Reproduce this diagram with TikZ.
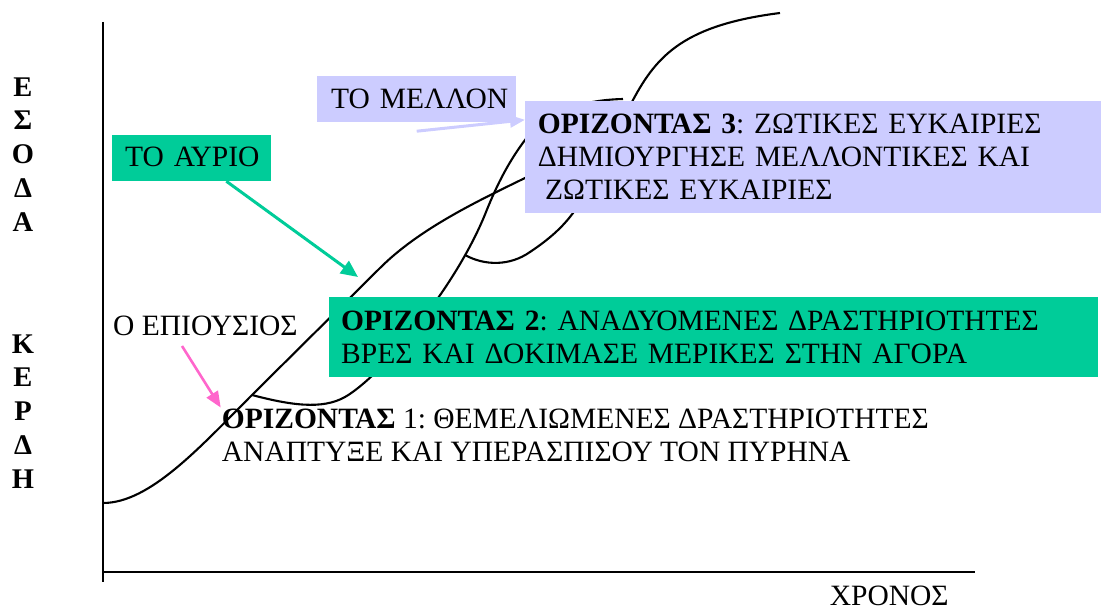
\documentclass[tikz,border=0pt]{standalone}
\usepackage{fontspec}
\setmainfont{Liberation Serif}
\usetikzlibrary{arrows.meta,calc}
\definecolor{hlav}{HTML}{CCCCFF}
\definecolor{hgreen}{HTML}{00CC99}
\definecolor{hpink}{HTML}{FF66CC}
\frenchspacing

\begin{document}
\begin{tikzpicture}[x=1pt,y=-1pt,
  every node/.style={font=\fontsize{29.5}{33.4}\selectfont, inner sep=0pt},
  txt/.style={anchor=base west, align=left},
  panel/.style={txt, inner ysep=0pt},
  ylab/.style={anchor=base, font=\fontsize{28.5}{34}\selectfont\bfseries},
  axis/.style={line width=2.2pt, black},
  curve/.style={line width=2.1pt, black},
  garrow/.style={line width=3pt, hgreen, -{Triangle[length=17pt,width=15pt]}},
  parrow/.style={line width=2.6pt, hpink, -{Triangle[length=16pt,width=13pt]}},
  larrow/.style={line width=3pt, hlav, -{Triangle[length=15pt,width=12pt]}}
]
\useasboundingbox (0,0) rectangle (1101,610);

% axes
\coordinate (ytop) at (103,22);
\coordinate (ybot) at (103,582);
\coordinate (xl) at (103,572);
\coordinate (xr) at (975,572);
\draw[axis] (ytop) -- (ybot);
\draw[axis] (xl) -- (xr);

% vertical axis captions
\foreach \l [count=\i] in {Ε,Σ,Ο,Δ,Α}
  \node[ylab] (esoda\i) at (23,{96+33.9*(\i-1)}) {\l};
\foreach \l [count=\i] in {Κ,Ε,Ρ,Δ,Η}
  \node[ylab] (kerdi\i) at (23,{353+33.9*(\i-1)}) {\l};

\node[txt] (xronos) at (829.6,605) {ΧΡΟΝΟΣ};

% horizon 1 curve
\draw[curve] (103,503) .. controls (150,503) and (200,447) .. (252,395)
  -- (380,268) .. controls (420,228) and (480,200) .. (525,178)
  .. controls (570,156) and (600,148) .. (640,140);
% horizon 2 curve
\draw[curve] (252,395) .. controls (290,405) and (322,410) .. (345,397)
  .. controls (380,377) and (455,290) .. (486,212)
  .. controls (498,182) and (510,160) .. (525,140)
  .. controls (545,113) and (580,100) .. (623,99);
% horizon 3 curve
\draw[curve] (465,255) .. controls (485,266) and (510,266) .. (530,252)
  .. controls (548,240) and (562,228) .. (573,213)
  .. controls (593,186) and (613,137.5) .. (633,100)
  .. controls (657,55) and (685,25) .. (780,13);

% panels
\node[panel, fill=hlav, text width=550.8pt, inner xsep=12.6pt,
      text height=32pt, text depth=80pt] (h3) at (525,133)
  {\mbox{\textbf{ΟΡΙΖΟΝΤΑΣ 3}: ΖΩΤΙΚΕΣ ΕΥΚΑΙΡΙΕΣ}\\
   \mbox{ΔΗΜΙΟΥΡΓΗΣΕ ΜΕΛΛΟΝΤΙΚΕΣ ΚΑΙ}\\
   \mbox{\hspace*{0.25em}ΖΩΤΙΚΕΣ ΕΥΚΑΙΡΙΕΣ}};
\node[panel, fill=hgreen, text width=745pt, inner xsep=12pt,
      text height=33pt, text depth=47pt] (h2) at (329,330)
  {\mbox{\textbf{ΟΡΙΖΟΝΤΑΣ 2}: ΑΝΑΔΥΟΜΕΝΕΣ ΔΡΑΣΤΗΡΙΟΤΗΤΕΣ}\\
   \mbox{ΒΡΕΣ ΚΑΙ ΔΟΚΙΜΑΣΕ ΜΕΡΙΚΕΣ ΣΤΗΝ ΑΓΟΡΑ}};
\node[txt] (h1) at (221.7,461.7)
  {\mbox{\textbf{ΟΡΙΖΟΝΤΑΣ} 1: ΘΕΜΕΛΙΩΜΕΝΕΣ ΔΡΑΣΤΗΡΙΟΤΗΤΕΣ}\\
   \mbox{ΑΝΑΠΤΥΞΕ ΚΑΙ ΥΠΕΡΑΣΠΙΣΟΥ ΤΟΝ ΠΥΡΗΝΑ}};

\node[panel, fill=hlav, text width=171pt, inner xsep=14pt,
      text height=33pt, text depth=13pt] (mellon) at (317,109) {\mbox{ΤΟ ΜΕΛΛΟΝ}};
\node[panel, fill=hgreen, text width=132.7pt, inner xsep=13.3pt,
      text height=31.7pt, text depth=14.3pt] (ayrio) at (111.7,166.7) {\mbox{ΤΟ ΑΥΡΙΟ}};
\node[txt] (epi) at (113,335) {Ο ΕΠΙΟΥΣΙΟΣ};

% pointers
\coordinate (ayrioTip) at (358,277);
\draw[garrow] ($(ayrio.south west)!0.7175!(ayrio.south east)$) -- (ayrioTip);
\draw[parrow] ($(epi.south west)+(69,10.5)$) -- ($(h1.north west)+(-1,-1)$);
\draw[larrow] ($(mellon.south)+(0,9)$) -- ($(h3.north west)+(0,19)$);
\end{tikzpicture}
\end{document}
